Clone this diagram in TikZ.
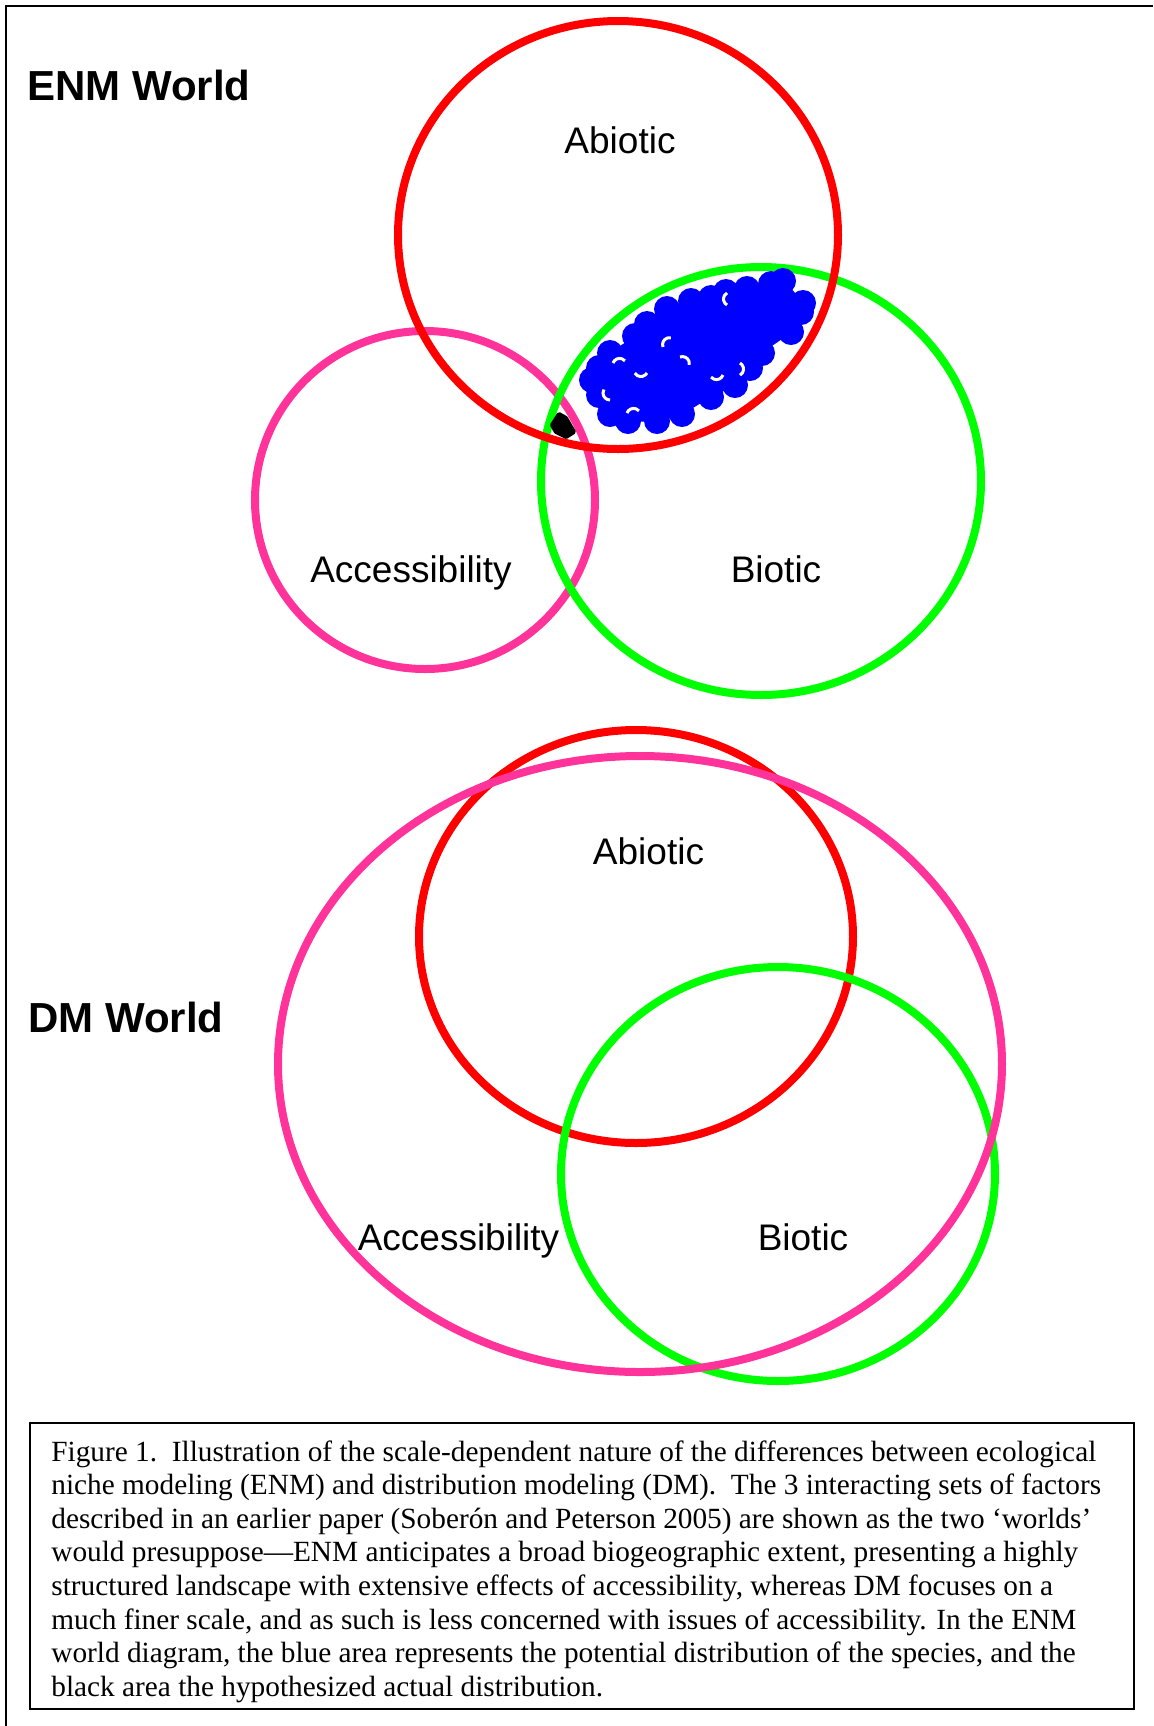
\documentclass[tikz,border=0pt]{standalone}
\usepackage{fontspec}
\setmainfont{Liberation Serif}
\setsansfont{Liberation Sans}
\usepackage{tikz}
\usetikzlibrary{calc}
\definecolor{abioticred}{RGB}{255,0,0}
\definecolor{bioticgreen}{RGB}{0,255,0}
\definecolor{accesspink}{RGB}{255,51,153}
\definecolor{blobblue}{RGB}{0,0,255}

\begin{document}
\begin{tikzpicture}[x=0.5pt,y=-0.5pt,
  ring/.style={line width=4pt},
  abiotic/.style={ring,draw=abioticred},
  biotic/.style={ring,draw=bioticgreen},
  access/.style={ring,draw=accesspink},
  lab/.style={anchor=base,inner sep=0pt,font=\sffamily\fontsize{18.5}{22}\selectfont},
  world/.style={anchor=base west,inner sep=0pt,font=\sffamily\bfseries\fontsize{21}{25}\selectfont}]
\useasboundingbox (0,0) rectangle (1153,1726);
\draw[line width=1pt] (6,1726) -- (6,6) -- (1153,6);

\node[world] (enmtitle) at (27,100) {ENM World};
\draw[access] (425,500) ellipse [x radius=170, y radius=169];
\draw[biotic] (761,481) ellipse [x radius=220, y radius=214];
\draw[abiotic] (618,235) ellipse [x radius=220, y radius=214];

\coordinate (blobc) at (697,353);
\fill[blobblue] plot[smooth cycle] coordinates {(783,281) (803,303) (801,312) (791,332)
  (762,353) (750,368) (735,385) (711,397) (682,414) (657,421) (628,421) (610,414)
  (599,395) (592,380) (599,368) (610,353) (635,336) (647,324) (667,309) (691,301)
  (711,298) (726,292) (747,289) (771,284)};
\foreach \x/\y in {783/281,803/303,801/312,791/332,762/353,750/368,735/385,711/397,
  682/414,657/421,628/421,610/414,599/395,592/380,599/368,610/353,635/336,647/324,
  667/309,691/301,711/298,726/292,747/289,771/284}
  \fill[blobblue] (\x,\y) circle [radius=13];
\foreach \x/\y/\a in {613/363/200,647/373/30,663/347/160,680/357/250,727/305/120,
  740/363/300,610/400/90,627/413/200,723/375/20}
  \draw[white,line width=1.5pt] (\x,\y) arc [start angle=\a,delta angle=120,radius=7];
\filldraw[line width=2pt,line join=round] (552,425) -- (559,414) -- (566,418)
  -- (574,432) -- (566,437) -- (556,432) -- cycle;

\node[lab] (enmabio) at (620,153) {Abiotic};
\node[lab] (enmacc) at (411,582) {Accessibility};
\node[lab] (enmbio) at (776,582) {Biotic};

\node[world] (dmtitle) at (28,1032) {DM World};
\draw[abiotic] (636,936.5) ellipse [x radius=217, y radius=206.5];
\draw[biotic] (778,1174) ellipse [x radius=217, y radius=207];
\draw[access] (640,1064) ellipse [x radius=362, y radius=308];

\node[lab] (dmabio) at (648.5,864) {Abiotic};
\node[lab] (dmacc) at (458.5,1250) {Accessibility};
\node[lab] (dmbio) at (803,1250) {Biotic};

\draw[line width=1.25pt] (30,1423) rectangle (1134,1709);
\node[anchor=north west,inner sep=0pt,align=left,font=\fontsize{14.65}{16.8}\selectfont]
  (caption) at (51,1440) {Figure 1.\ \ Illustration of the scale-dependent nature of the differences between ecological\\
niche modeling (ENM) and distribution modeling (DM).\ \ The 3 interacting sets of factors\\
described in an earlier paper (Soberón and Peterson 2005) are shown as the two `worlds'\\
would presuppose---ENM anticipates a broad biogeographic extent, presenting a highly\\
structured landscape with extensive effects of accessibility, whereas DM focuses on a\\
much finer scale, and as such is less concerned with issues of accessibility. In the ENM\\
world diagram, the blue area represents the potential distribution of the species, and the\\
black area the hypothesized actual distribution.};
\end{tikzpicture}
\end{document}
